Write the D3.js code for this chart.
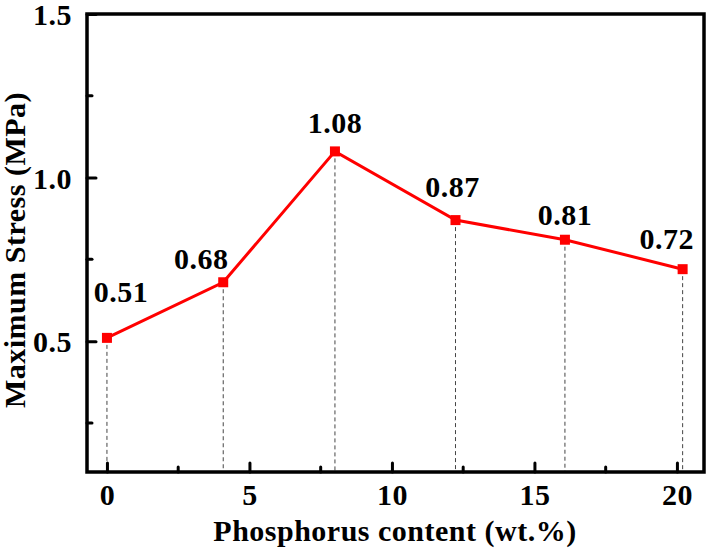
<!DOCTYPE html>
<html>
<head>
<meta charset="utf-8">
<script src="https://cdn.jsdelivr.net/npm/d3@7"></script>
<style>
  body { margin: 0; background: #fff; }
  svg text { font-family: "Times New Roman", "Liberation Serif", Times, serif !important; font-weight: bold; fill: #000; letter-spacing: 0.5px; }
</style>
</head>
<body>
<script>
// phosphorus content (wt.%) and max stress (MPa)
const phosphorus = [0, 4.08, 8.0, 12.23, 16.07, 20.2];
const stress = [0.51, 0.68, 1.08, 0.87, 0.81, 0.72];
const stressLabels = ["0.51", "0.68", "1.08", "0.87", "0.81", "0.72"];
const xTicks = [0, 5, 10, 15, 20];
const yTicks = [0.5, 1.0, 1.5];

const width = 710, height = 550;
const margin = {top: 14, right: 6, bottom: 78, left: 87};
const fontSize = "30px";
// small label nudges so text clears the line / frame
const labelDx = [14, -22, 0, -3, 0, -16];
const labelDy = [-36, -13, -18, -23, -15, -20];

const x = d3.scaleLinear().domain([-0.7, 20.95]).range([margin.left, width - margin.right]);
const y = d3.scaleLinear().domain([0.1, 1.5]).range([height - margin.bottom, margin.top]);

const svg = d3.select("body").append("svg")
    .attr("width", width)
    .attr("height", height);

// dashed drop lines
svg.selectAll("line.drop")
   .data(phosphorus)
   .enter()
   .append("line")
   .attr("class", "drop")
   .attr("x1", d => x(d)).attr("x2", d => x(d))
   .attr("y1", (d, i) => y(stress[i]))
   .attr("y2", y(0.1))
   .style("stroke", "#444")
   .style("stroke-width", 1)
   .style("stroke-dasharray", "4,3");

// minor ticks
const xMinor = d3.range(2.5, 20, 5);
const yMinor = [0.25, 0.75, 1.25];

const xAxis = d3.axisBottom(x).tickValues(xTicks).tickSizeInner(-9).tickSizeOuter(0);
const yAxis = d3.axisLeft(y).tickValues(yTicks).tickFormat(d3.format(".1f")).tickSizeInner(-9).tickSizeOuter(0).tickPadding(15);

const gx = svg.append("g").attr("transform", `translate(0,${height - margin.bottom})`).call(xAxis);
const gy = svg.append("g").attr("transform", `translate(${margin.left},0)`).call(yAxis);

[gx, gy].forEach(g => {
    g.attr("font-family", null).attr("font-size", null);
    g.select(".domain").remove();
    g.selectAll(".tick line").style("stroke", "#000").style("stroke-width", 3).style("stroke-linecap", "round");
    g.selectAll(".tick text").style("font-size", fontSize);
});
gx.selectAll(".tick text").attr("dy", null).attr("y", 33);
gy.selectAll(".tick text").attr("dy", "0.35em");

svg.selectAll("line.xminor")
   .data(xMinor).enter().append("line")
   .attr("x1", d => x(d)).attr("x2", d => x(d))
   .attr("y1", y(0.1)).attr("y2", y(0.1) - 5)
   .style("stroke", "#000").style("stroke-width", 3).style("stroke-linecap", "round");

svg.selectAll("line.yminor")
   .data(yMinor).enter().append("line")
   .attr("x1", x(-0.7)).attr("x2", x(-0.7) + 5)
   .attr("y1", d => y(d)).attr("y2", d => y(d))
   .style("stroke", "#000").style("stroke-width", 3).style("stroke-linecap", "round");

// frame
svg.append("rect")
   .attr("x", margin.left).attr("y", margin.top)
   .attr("width", width - margin.left - margin.right)
   .attr("height", height - margin.top - margin.bottom)
   .style("fill", "none").style("stroke", "#000").style("stroke-width", 3.5);

// line + markers
const line = d3.line().x(d => x(d[0])).y(d => y(d[1]));
svg.append("path")
   .datum(phosphorus.map((p, i) => [p, stress[i]]))
   .attr("d", line)
   .style("fill", "none")
   .style("stroke", "#ff0000")
   .style("stroke-width", 3);

svg.selectAll("rect.pt")
   .data(phosphorus)
   .enter()
   .append("rect")
   .attr("class", "pt")
   .attr("x", d => x(d) - 5)
   .attr("y", (d, i) => y(stress[i]) - 5)
   .attr("width", 10).attr("height", 10)
   .style("fill", "#ff0000");

// value labels
svg.selectAll("text.val")
   .data(stressLabels)
   .enter()
   .append("text")
   .attr("class", "val")
   .attr("x", (d, i) => x(phosphorus[i]) + labelDx[i])
   .attr("y", (d, i) => y(stress[i]) + labelDy[i])
   .attr("text-anchor", "middle")
   .style("font-size", fontSize)
   .text(d => d);

// axis titles
svg.append("text")
   .attr("x", 395).attr("y", 541)
   .attr("text-anchor", "middle")
   .style("font-size", fontSize)
   .text("Phosphorus content (wt.%)");

svg.append("text")
   .attr("transform", "translate(25,250) rotate(-90)")
   .attr("text-anchor", "middle")
   .style("font-size", fontSize)
   .text("Maximum Stress (MPa)");
</script>
</body>
</html>
